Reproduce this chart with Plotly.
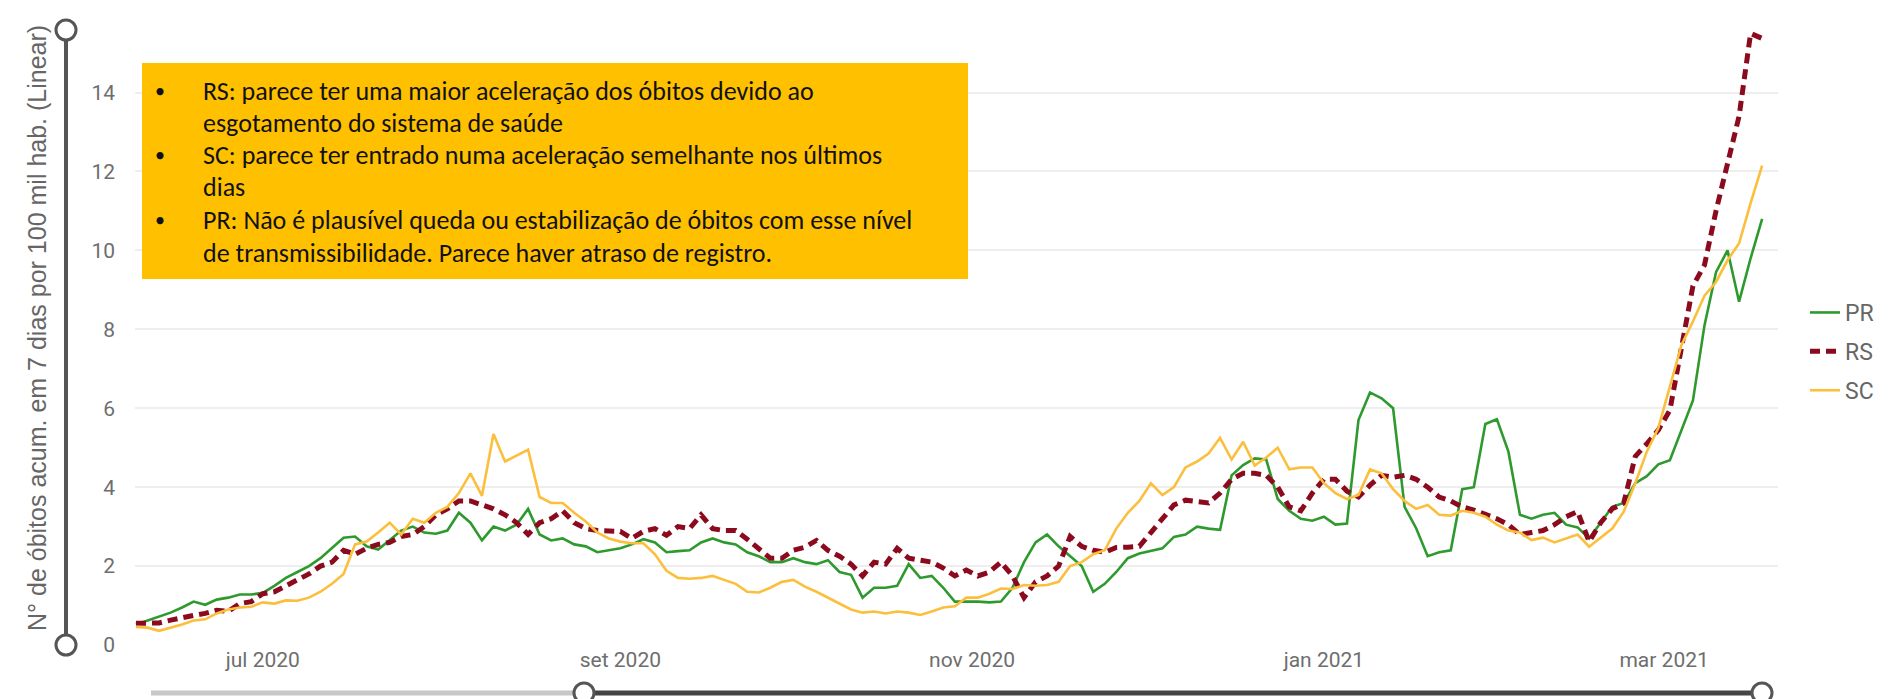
import pandas as pd
import plotly.graph_objects as go

# ---------------- data (every 2 days from 2020-06-09) -------------
start_date = "2020-06-09"

pr = [0.52, 0.62, 0.72, 0.82, 0.95, 1.1, 1.02, 1.15, 1.2, 1.28,
      1.28, 1.32, 1.5, 1.7, 1.85, 2.0, 2.2, 2.45, 2.72, 2.75,
      2.5, 2.42, 2.65, 2.9, 3.0, 2.85, 2.82, 2.9, 3.35, 3.1,
      2.65, 3.0, 2.9, 3.05, 3.45, 2.8, 2.65, 2.7, 2.55, 2.5,
      2.35, 2.4, 2.45, 2.55, 2.68, 2.6, 2.35, 2.38, 2.4, 2.6,
      2.7, 2.6, 2.55, 2.35, 2.25, 2.1, 2.1, 2.2, 2.1, 2.05,
      2.15, 1.85, 1.78, 1.2, 1.45, 1.45, 1.5, 2.05, 1.7, 1.75,
      1.45, 1.1, 1.1, 1.1, 1.08, 1.1, 1.45, 2.1, 2.6, 2.8,
      2.5, 2.25, 2.0, 1.35, 1.55, 1.85, 2.2, 2.32, 2.38, 2.45,
      2.74, 2.8, 3.0, 2.95, 2.92, 4.3, 4.56, 4.73, 4.7, 3.7,
      3.4, 3.2, 3.15, 3.25, 3.05, 3.08, 5.7, 6.4, 6.25, 6.0,
      3.5, 2.96, 2.25, 2.35, 2.4, 3.95, 4.0, 5.6, 5.72, 4.9,
      3.3, 3.2, 3.3, 3.35, 3.05, 2.98, 2.7, 3.1, 3.5, 3.6,
      4.1, 4.28, 4.58, 4.68, 5.45, 6.2, 8.1, 9.45, 10.0, 8.7,
      9.8, 10.8]

rs = [0.55, 0.55, 0.56, 0.63, 0.7, 0.75, 0.8, 0.88, 0.85, 1.05,
      1.1, 1.3, 1.35, 1.5, 1.65, 1.8, 2.0, 2.1, 2.4, 2.3,
      2.45, 2.55, 2.6, 2.75, 2.8, 3.0, 3.3, 3.45, 3.65, 3.65,
      3.55, 3.45, 3.3, 3.1, 2.8, 3.1, 3.2, 3.4, 3.1, 2.95,
      2.9, 2.9, 2.88, 2.7, 2.88, 2.95, 2.78, 3.0, 2.95, 3.3,
      2.95, 2.9, 2.9, 2.68, 2.45, 2.2, 2.2, 2.4, 2.48, 2.65,
      2.4, 2.25, 2.05, 1.75, 2.1, 2.05, 2.45, 2.2, 2.15, 2.1,
      1.95, 1.75, 1.9, 1.75, 1.85, 2.1, 1.75, 1.2, 1.6, 1.75,
      2.0, 2.75, 2.5, 2.4, 2.35, 2.47, 2.48, 2.5, 2.85, 3.2,
      3.55, 3.67, 3.62, 3.6, 3.85, 4.2, 4.35, 4.35, 4.3, 4.0,
      3.5, 3.4, 3.85, 4.2, 4.2, 3.9, 3.75, 4.05, 4.3, 4.25,
      4.3, 4.2, 4.0, 3.75, 3.65, 3.5, 3.42, 3.32, 3.2, 3.05,
      2.8, 2.85, 2.9, 3.05, 3.25, 3.38, 2.62, 3.1, 3.45, 3.6,
      4.78, 5.1, 5.45, 5.95, 7.6, 9.1, 9.63, 11.0, 12.2, 13.4,
      15.5, 15.37]

sc = [0.46, 0.44, 0.36, 0.44, 0.52, 0.62, 0.65, 0.8, 0.9, 0.95,
      0.97, 1.08, 1.05, 1.13, 1.12, 1.2, 1.35, 1.55, 1.8, 2.55,
      2.62, 2.85, 3.1, 2.8, 3.2, 3.1, 3.35, 3.5, 3.85, 4.35,
      3.78, 5.35, 4.65, 4.8, 4.95, 3.75, 3.6, 3.6, 3.35, 3.13,
      2.85, 2.7, 2.62, 2.58, 2.58, 2.3, 1.88, 1.7, 1.68, 1.7,
      1.75, 1.65, 1.55, 1.35, 1.33, 1.45, 1.6, 1.65, 1.48, 1.35,
      1.2, 1.05, 0.9, 0.82, 0.85, 0.8, 0.85, 0.82, 0.76, 0.85,
      0.95, 0.98, 1.2, 1.2, 1.3, 1.43, 1.42, 1.52, 1.5, 1.52,
      1.6, 2.0, 2.1, 2.3, 2.4, 2.95, 3.35, 3.65, 4.1, 3.8,
      4.0, 4.5, 4.65, 4.85, 5.25, 4.7, 5.15, 4.55, 4.75, 5.0,
      4.45, 4.5, 4.5, 4.1, 3.85, 3.7, 3.8, 4.45, 4.35, 3.95,
      3.65, 3.45, 3.55, 3.3, 3.28, 3.4, 3.35, 3.25, 3.05, 2.9,
      2.85, 2.66, 2.72, 2.6, 2.7, 2.8, 2.49, 2.72, 2.95, 3.38,
      4.1, 4.9, 5.5, 6.55, 7.6, 8.2, 8.85, 9.2, 9.75, 10.18,
      11.2, 12.15]

series_names = ["PR", "RS", "SC"]
tick_dates = ["2020-07-01", "2020-09-01", "2020-11-01", "2021-01-01", "2021-03-01"]
tick_text = ["jul 2020", "set 2020", "nov 2020", "jan 2021", "mar 2021"]
y_ticks = [0, 2, 4, 6, 8, 10, 12, 14]

y_title = "N° de óbitos acum. em 7 dias por 100 mil hab. (Linear)"
note_lines = [
    "RS: parece ter uma maior aceleração dos óbitos devido ao",
    "esgotamento do sistema de saúde",
    "SC: parece ter entrado numa aceleração semelhante nos últimos",
    "dias",
    "PR: Não é plausível queda ou estabilização de óbitos com esse nível",
    "de transmissibilidade. Parece haver atraso de registro.",
]
note_bullet = [True, False, True, False, True, False]

dates = pd.date_range(start_date, periods=len(pr), freq="2D")

# ---------------- layout geometry (pixels) ----------------
W, H = 1893, 699
L, R, T, B = 127, 1770, 22, 637


def px(x):
    return (x - L) / (R - L)


def py(y):
    return (B - y) / (B - T)


tick_font = dict(family="Roboto, Liberation Sans, Arial, sans-serif", size=21, color="#6E6E6E")

colors = {"PR": "#2E9A2E", "RS": "#8C0A1E", "SC": "#FBBF3C"}

fig = go.Figure()
fig.add_trace(go.Scatter(x=dates, y=pr, name="PR", mode="lines", legendgroup="PR",
                         line=dict(color=colors["PR"], width=2.6)))
fig.add_trace(go.Scatter(x=dates, y=rs, name="RS", mode="lines", legendgroup="RS",
                         line=dict(color=colors["RS"], width=5, dash="10px,6px")))
fig.add_trace(go.Scatter(x=dates, y=sc, name="SC", mode="lines", legendgroup="SC",
                         line=dict(color=colors["SC"], width=2.6)))

shapes = []
# annotation box
shapes.append(dict(type="rect", xref="paper", yref="paper", x0=px(134), x1=px(960),
                   y0=py(271), y1=py(55), fillcolor="#FFC000", line=dict(width=0), layer="above"))
# vertical range slider
shapes.append(dict(type="line", xref="paper", yref="paper", x0=px(58), x1=px(58),
                   y0=py(22), y1=py(637), line=dict(color="#555555", width=4)))
for cy in (22, 637):
    shapes.append(dict(type="circle", xref="paper", yref="paper", x0=px(48), x1=px(68),
                       y0=py(cy + 10), y1=py(cy - 10), fillcolor="white",
                       line=dict(color="#555555", width=3)))
# horizontal range slider
SLIDER_Y = 685
shapes.append(dict(type="line", xref="paper", yref="paper", x0=px(143), x1=px(576),
                   y0=py(SLIDER_Y), y1=py(SLIDER_Y), line=dict(color="#C8C8C8", width=5)))
shapes.append(dict(type="line", xref="paper", yref="paper", x0=px(576), x1=px(1754),
                   y0=py(SLIDER_Y), y1=py(SLIDER_Y), line=dict(color="#444444", width=5)))
for cx in (576, 1754):
    shapes.append(dict(type="circle", xref="paper", yref="paper", x0=px(cx - 10), x1=px(cx + 10),
                       y0=py(SLIDER_Y + 10), y1=py(SLIDER_Y - 10), fillcolor="white",
                       line=dict(color="#555555", width=3)))

annotations = []
note_font = dict(family="Carlito, Lato, sans-serif", size=26, color="#111111")
bullet_font = dict(family="Carlito, Lato, sans-serif", size=20, color="#111111")
line_y = [83, 115, 147, 179, 212, 245]
for text, bullet, yy in zip(note_lines, note_bullet, line_y):
    annotations.append(dict(xref="paper", yref="paper", x=px(193), y=py(yy), text=text,
                            showarrow=False, xanchor="left", yanchor="middle", font=note_font))
    if bullet:
        annotations.append(dict(xref="paper", yref="paper", x=px(152), y=py(yy), text="•",
                                showarrow=False, xanchor="center", yanchor="middle", font=bullet_font))
annotations.append(dict(xref="paper", yref="paper", x=px(29), y=py(320), text=y_title,
                        textangle=-90, showarrow=False, xanchor="center", yanchor="middle",
                        font=dict(family="Liberation Sans, Arial, sans-serif", size=25, color="#666666")))

fig.update_layout(
    width=W, height=H,
    margin=dict(l=L, r=W - R, t=T, b=H - B, pad=0),
    paper_bgcolor="white", plot_bgcolor="white",
    showlegend=True,
    legend=dict(x=px(1797), y=py(283), xanchor="left", yanchor="top",
                font=dict(family=tick_font["family"], size=23, color="#666666"),
                traceorder="grouped", tracegroupgap=6,
                bgcolor="rgba(0,0,0,0)"),
    shapes=shapes,
    annotations=annotations,
)
fig.update_xaxes(range=["2020-06-08 20:00", "2021-03-20 18:00"], tickvals=tick_dates, ticktext=tick_text,
                 showgrid=False, zeroline=False, showline=False, ticks="",
                 tickfont=tick_font, ticklabelstandoff=0)
fig.update_yaxes(range=[0, (B - T) / 39.46], tickvals=y_ticks, showgrid=True, gridcolor="#EEEEEE",
                 gridwidth=2, zeroline=False, showline=False, ticks="",
                 tickfont=tick_font, ticklabelstandoff=19)

fig.write_html("out.html")
